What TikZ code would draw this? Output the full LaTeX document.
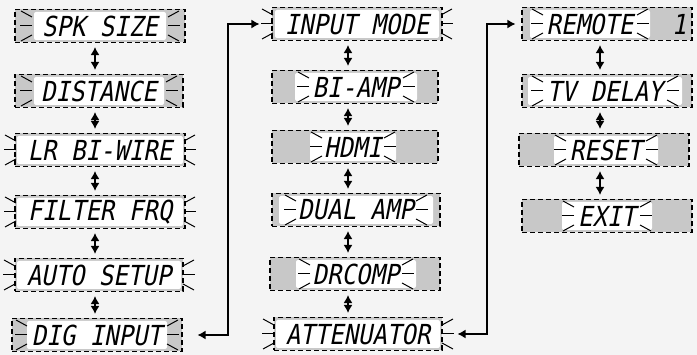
\documentclass[tikz,border=0pt]{standalone}
\usepackage{fontspec}
\usepackage{graphicx}
\usepackage{xcolor}
\newfontfamily\lcdfont[FakeSlant=0.22]{DejaVu Sans Mono}
\usetikzlibrary{arrows.meta,calc}
\definecolor{pagebg}{HTML}{F4F4F4}
\definecolor{lcdgray}{HTML}{C8C8C8}

\begin{document}
\begin{tikzpicture}[
    x=1pt, y=-1pt,
    >={Latex[length=8pt,width=9pt]},
    panel/.style={draw,dash pattern=on 5pt off 3pt,line width=1.1pt,fill=lcdgray,
                  minimum height=33pt,inner sep=0pt},
    lit/.style={fill=white,rounded corners=2pt},
    ray/.style={line width=1pt},
    lcd/.style={font=\lcdfont\fontsize{24}{24}\selectfont,inner sep=0pt},
    dbl/.style={<->,line width=1.4pt,shorten <=4pt,shorten >=4pt},
    link/.style={<->,line width=1.3pt},
  ]

  \fill[pagebg] (0,0) rectangle (697,355);
  \useasboundingbox (0,0) rectangle (697,355);

  % --- displays: name/cx/cy/half width/lit centre/lit half/ray offset/text ---
  \foreach \nm/\cx/\cy/\bw/\wc/\ww/\rx/\txt in {
      spk/100/26/85/100/66/68/SPK SIZE,
      dist/99/91/84/99/65/67/DISTANCE,
      lrbi/100/150/85/100/83/84/LR BI-WIRE,
      filt/100/212/85/100/83/84/FILTER FRQ,
      auto/99/275/84/99/82/84/AUTO SETUP,
      dig/97/335/85/97/70/70/DIG INPUT,
      inmode/357/24/85/357/82/84/INPUT MODE,
      biamp/355/87/83/356/61/47/BI-AMP,
      hdmi/355/147/83/353/43/31/HDMI,
      dual/356/210/84/356/77/60/DUAL AMP,
      drc/355/274/85/356/60/46/DRCOMP,
      atten/358/334/84/358/82/84/ATTENUATOR,
      remote/607/24/85/590/60/47/REMOTE,
      tvd/607/91/85/605/77/62/TV DELAY,
      reset/604/150/85/606/52/40/RESET,
      exit/607/216/85/607/45/33/EXIT}{
    \node[panel,minimum width={(2*\bw)*1pt}] (\nm) at (\cx,\cy) {};
    \fill[lit] ({\wc-\ww},{\cy-14}) rectangle ({\wc+\ww},{\cy+14});
    \foreach \s in {-1,1} {
      \draw[ray] ({\wc+\s*\rx},\cy) -- ({\wc+\s*(\rx+12)},\cy);
      \draw[ray] ({\wc+\s*\rx},{\cy-9}) -- ({\wc+\s*(\rx+11)},{\cy-15});
      \draw[ray] ({\wc+\s*\rx},{\cy+9}) -- ({\wc+\s*(\rx+11)},{\cy+15});
    }
    \node[lcd] (\nm-txt) at (\wc,\cy) {\scalebox{1}[1.15]{\txt}};
  }
  \node[lcd] (remote-num) at (679,24) {\scalebox{1}[1.15]{1}};

  % --- column guides ---
  \coordinate (c1) at (95,0);
  \coordinate (c2) at (348,0);
  \coordinate (c3) at (600,0);
  \coordinate (jA) at (228,0);
  \coordinate (jB) at (487,0);

  % --- up/down steps ---
  \draw[dbl] (spk.south -| c1) -- (dist.north -| c1);
  \draw[dbl] (dist.south -| c1) -- (lrbi.north -| c1);
  \draw[dbl] (lrbi.south -| c1) -- (filt.north -| c1);
  \draw[dbl] (filt.south -| c1) -- (auto.north -| c1);
  \draw[dbl] (auto.south -| c1) -- (dig.north -| c1);

  \draw[dbl] (inmode.south -| c2) -- (biamp.north -| c2);
  \draw[dbl] (biamp.south -| c2) -- (hdmi.north -| c2);
  \draw[dbl] (hdmi.south -| c2) -- (dual.north -| c2);
  \draw[dbl] (dual.south -| c2) -- (drc.north -| c2);
  \draw[dbl] (drc.south -| c2) -- (atten.north -| c2);

  \draw[dbl] (remote.south -| c3) -- (tvd.north -| c3);
  \draw[dbl] (tvd.south -| c3) -- (reset.north -| c3);
  \draw[dbl] (reset.south -| c3) -- (exit.north -| c3);

  % --- wrap between columns ---
  \draw[link,shorten <=15pt,shorten >=12pt] (dig.east) -- (dig.east -| jA) |- (inmode.west);
  \draw[link,shorten <=15pt,shorten >=6pt] (atten.east) -- (atten.east -| jB) |- (remote.west);

\end{tikzpicture}
\end{document}
